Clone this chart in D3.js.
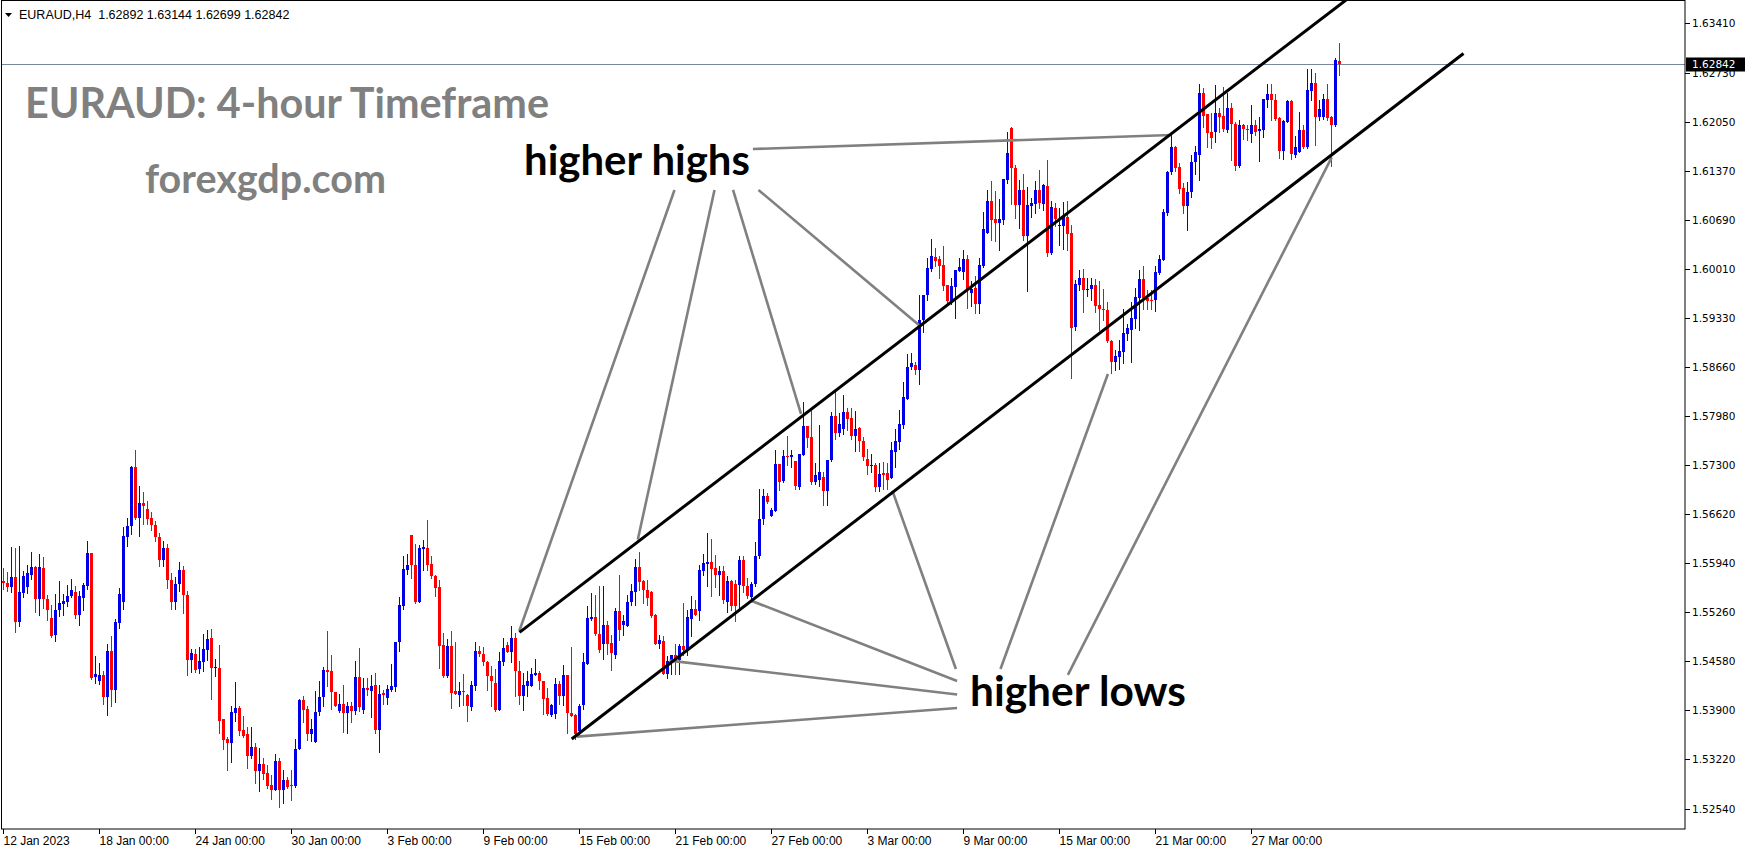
<!DOCTYPE html>
<html><head><meta charset="utf-8">
<script src="https://cdn.jsdelivr.net/npm/d3@7"></script>
<style>html,body{margin:0;padding:0;background:#fff;overflow:hidden}svg{display:block}</style>
</head><body>
<svg id="c" width="1749" height="850"></svg>
<script>
// ---------- DATA (EURAUD H4, 12 Jan 2023 .. 30 Mar 2023) ----------
const open = [
1.55693,1.55661,1.55601,1.55748,1.55130,1.55531,1.55601,1.55776,1.55886,1.55448,
1.55873,1.55444,1.55181,1.54937,1.55283,1.55379,1.55407,1.55485,1.55541,1.55227,
1.55462,1.55628,1.56080,1.54356,1.54301,1.54393,1.54079,1.54725,1.54185,1.55103,
1.55407,1.56306,1.56458,1.57269,1.56569,1.56772,1.56689,1.56564,1.56472,1.56300,
1.55980,1.56150,1.55700,1.55400,1.55650,1.55850,1.55500,1.54598,1.54681,1.54474,
1.54575,1.54736,1.54898,1.54488,1.54488,1.53782,1.53506,1.53455,1.53870,1.53934,
1.53630,1.53575,1.53275,1.53395,1.53063,1.53160,1.53035,1.52870,1.52800,1.53201,
1.52800,1.52939,1.52870,1.52856,1.53367,1.54045,1.53922,1.53576,1.53456,1.53880,
1.54079,1.54461,1.54447,1.54157,1.53894,1.53991,1.53857,1.53963,1.53894,1.54364,
1.53908,1.54212,1.54171,1.54254,1.53631,1.54134,1.54074,1.54184,1.54222,1.54848,
1.55346,1.55844,1.56328,1.55913,1.55402,1.56135,1.56148,1.55927,1.55761,1.55609,
1.54807,1.54378,1.54793,1.54171,1.54115,1.54171,1.54106,1.53949,1.54240,1.54724,
1.54682,1.54572,1.54378,1.54281,1.53908,1.54572,1.54807,1.54710,1.54904,1.54447,
1.54102,1.54240,1.54240,1.54392,1.54420,1.54309,1.54074,1.53839,1.53853,1.54267,
1.54102,1.54392,1.53866,1.53839,1.53618,1.53977,1.54544,1.55166,1.55194,1.54959,
1.54821,1.55083,1.54835,1.54669,1.55277,1.55083,1.55070,1.55394,1.55541,1.55887,
1.55693,1.55569,1.55541,1.55223,1.54822,1.54863,1.54407,1.54591,1.54670,1.54600,
1.54794,1.54739,1.55167,1.55306,1.55278,1.55831,1.55928,1.55956,1.55873,1.55776,
1.55831,1.55403,1.55693,1.55652,1.55638,1.55984,1.55624,1.55472,1.55652,1.56039,
1.56551,1.56869,1.56592,1.56661,1.57311,1.57076,1.57424,1.57401,1.57355,1.56996,
1.57438,1.57839,1.57687,1.57065,1.57092,1.57134,1.56940,1.57369,1.57977,1.57742,
1.57798,1.58033,1.57950,1.57701,1.57812,1.57632,1.57383,1.57286,1.57300,1.56996,
1.57189,1.57189,1.57120,1.57480,1.57618,1.57853,1.58213,1.58655,1.58683,1.58614,
1.59305,1.59651,1.60012,1.60178,1.60150,1.60067,1.59791,1.59569,1.59763,1.59984,
1.59971,1.60150,1.59680,1.59749,1.59528,1.60054,1.60510,1.60952,1.60704,1.60648,
1.60690,1.61243,1.61962,1.61409,1.60897,1.61105,1.60468,1.60883,1.60911,1.61105,
1.60911,1.61160,1.60233,1.60856,1.60607,1.60607,1.60731,1.60510,1.59206,1.59792,
1.59888,1.59722,1.59736,1.59792,1.59515,1.59460,1.59446,1.59017,1.58727,1.58796,
1.58865,1.59114,1.59169,1.59321,1.59612,1.59875,1.59612,1.59584,1.59584,1.59958,
1.60137,1.60787,1.61354,1.61700,1.61424,1.61133,1.60884,1.61078,1.61493,1.61590,
1.62447,1.62157,1.61908,1.61908,1.62170,1.62129,1.61935,1.62240,1.62018,1.61437,
1.62004,1.61949,1.61880,1.62004,1.61921,1.61935,1.62350,1.62433,1.62350,1.62101,
1.61645,1.62046,1.62336,1.61590,1.61631,1.61935,1.61700,1.62475,1.62585,1.62115,
1.62115,1.62364,1.62115,1.62004,1.62892];
const high = [
1.55867,1.55822,1.56158,1.56145,1.56177,1.55831,1.55914,1.56094,1.55900,1.56066,
1.56025,1.55499,1.55361,1.55513,1.55693,1.55513,1.55637,1.55720,1.55624,1.55559,
1.55665,1.56246,1.56080,1.54656,1.54559,1.54448,1.54822,1.54932,1.55167,1.55596,
1.56440,1.56564,1.57283,1.57505,1.57007,1.56924,1.56799,1.56647,1.56520,1.56350,
1.56250,1.56200,1.55800,1.55750,1.55950,1.55900,1.55550,1.54750,1.54750,1.54778,
1.54958,1.55013,1.55027,1.54612,1.54806,1.53782,1.53538,1.53962,1.54294,1.53962,
1.53824,1.53672,1.53672,1.53450,1.53381,1.53243,1.53146,1.53008,1.53298,1.53243,
1.53077,1.52980,1.53077,1.53506,1.54059,1.54100,1.53960,1.53784,1.54171,1.54309,
1.54503,1.55001,1.54669,1.54157,1.54129,1.54254,1.54009,1.54018,1.54586,1.54765,
1.54351,1.54351,1.54392,1.54420,1.54254,1.54185,1.54254,1.54544,1.54848,1.55471,
1.56038,1.56065,1.56328,1.56204,1.56190,1.56259,1.56536,1.56038,1.55775,1.55703,
1.54973,1.54890,1.55001,1.54848,1.54292,1.54403,1.54129,1.54309,1.54848,1.54793,
1.54779,1.54586,1.54516,1.54475,1.54710,1.54904,1.54848,1.55070,1.54973,1.54586,
1.54420,1.54447,1.54489,1.54613,1.54447,1.54309,1.54212,1.53991,1.54350,1.54309,
1.54530,1.54392,1.54779,1.53853,1.53991,1.54696,1.55346,1.55526,1.55498,1.55623,
1.55623,1.55139,1.54945,1.55319,1.55775,1.55222,1.55498,1.55652,1.55997,1.56094,
1.55707,1.55707,1.55555,1.55237,1.54946,1.54932,1.54656,1.54670,1.54822,1.54822,
1.55393,1.55292,1.55486,1.55430,1.55914,1.56066,1.56357,1.56274,1.56053,1.55901,
1.55901,1.55762,1.55707,1.55707,1.56039,1.56039,1.55735,1.55679,1.56232,1.56965,
1.56965,1.56910,1.56703,1.57505,1.57311,1.57505,1.57701,1.57507,1.57355,1.57452,
1.58171,1.57839,1.58060,1.57327,1.57853,1.57203,1.57369,1.58033,1.58309,1.58019,
1.58268,1.58088,1.58088,1.58047,1.57825,1.57687,1.57521,1.57452,1.57327,1.57327,
1.57341,1.57327,1.57618,1.57798,1.58060,1.58448,1.58835,1.58849,1.58724,1.59651,
1.59651,1.60163,1.60427,1.60302,1.60192,1.60330,1.59791,1.59888,1.59998,1.60164,
1.60275,1.60206,1.59846,1.59915,1.60164,1.60800,1.61105,1.61229,1.61091,1.60980,
1.61257,1.61907,1.61976,1.61450,1.61243,1.61326,1.61146,1.60994,1.61229,1.61381,
1.61188,1.61519,1.60952,1.60925,1.60856,1.60939,1.60952,1.60621,1.59861,1.59999,
1.60013,1.59888,1.59888,1.59875,1.59847,1.59736,1.59557,1.59031,1.58893,1.59031,
1.59460,1.59252,1.59557,1.59750,1.59999,1.60054,1.59722,1.59722,1.60054,1.60207,
1.60843,1.61368,1.61866,1.61714,1.61479,1.61202,1.61216,1.61590,1.61714,1.62571,
1.62516,1.62157,1.62170,1.62558,1.62240,1.62530,1.62447,1.62309,1.62046,1.62074,
1.62018,1.62004,1.62281,1.62074,1.62115,1.62364,1.62571,1.62571,1.62433,1.62115,
1.62074,1.62350,1.62350,1.61852,1.62184,1.62004,1.62779,1.62779,1.62724,1.62350,
1.62433,1.62571,1.62129,1.62931,1.63144];
const low = [
1.55582,1.55555,1.55545,1.54978,1.55061,1.55476,1.55531,1.55720,1.55255,1.55223,
1.55315,1.55144,1.54909,1.54854,1.55200,1.55223,1.55338,1.55467,1.55172,1.55075,
1.55296,1.55578,1.54337,1.54273,1.54259,1.53987,1.53830,1.53955,1.54010,1.55047,
1.55306,1.56177,1.56343,1.56555,1.56315,1.56481,1.56486,1.56398,1.56244,1.55900,
1.55900,1.55600,1.55300,1.55300,1.55550,1.55245,1.54391,1.54437,1.54437,1.54423,
1.54446,1.54598,1.54059,1.54377,1.53593,1.53367,1.53077,1.53188,1.53759,1.53561,
1.53538,1.53105,1.53243,1.52897,1.52786,1.52952,1.52828,1.52676,1.52800,1.52565,
1.52621,1.52828,1.52662,1.52842,1.53367,1.53733,1.53493,1.53479,1.53456,1.53839,
1.53963,1.54240,1.53922,1.53963,1.53880,1.53604,1.53590,1.53742,1.53844,1.53894,
1.53867,1.54115,1.53811,1.53590,1.53327,1.53991,1.53991,1.54166,1.54166,1.54724,
1.55305,1.55789,1.55734,1.55388,1.55402,1.55844,1.55844,1.55734,1.55485,1.54489,
1.54364,1.54364,1.53936,1.54125,1.53963,1.53977,1.53756,1.53908,1.54184,1.54655,
1.54530,1.54184,1.53963,1.53894,1.53908,1.54530,1.54710,1.54572,1.54102,1.53991,
1.53908,1.54102,1.54240,1.54392,1.54198,1.53853,1.53839,1.53825,1.53797,1.53991,
1.53977,1.53590,1.53825,1.53510,1.53576,1.53922,1.54544,1.55153,1.54945,1.54710,
1.54613,1.54682,1.54461,1.54627,1.54876,1.54945,1.55070,1.55361,1.55361,1.55569,
1.55389,1.55361,1.55195,1.54822,1.54767,1.54407,1.54352,1.54407,1.54407,1.54407,
1.54670,1.54670,1.54932,1.55223,1.55154,1.55776,1.55624,1.55486,1.55610,1.55500,
1.55389,1.55264,1.55292,1.55140,1.55320,1.55541,1.55458,1.55430,1.55624,1.56011,
1.56481,1.56772,1.56592,1.56661,1.56952,1.57062,1.57300,1.57272,1.56968,1.56968,
1.57438,1.57549,1.57037,1.57037,1.57009,1.56747,1.56747,1.57355,1.57659,1.57701,
1.57729,1.57784,1.57659,1.57493,1.57493,1.57369,1.57175,1.57203,1.56940,1.56940,
1.56968,1.56968,1.57120,1.57272,1.57521,1.57812,1.58213,1.58627,1.58558,1.58420,
1.59139,1.59582,1.59984,1.60054,1.59888,1.59722,1.59528,1.59528,1.59334,1.59984,
1.59874,1.59473,1.59500,1.59404,1.59404,1.60040,1.60510,1.60413,1.60399,1.60275,
1.60634,1.61201,1.60911,1.60717,1.60579,1.60413,1.59708,1.60731,1.60787,1.60856,
1.60828,1.60192,1.60219,1.60607,1.60344,1.60289,1.60275,1.58505,1.59169,1.59722,
1.59418,1.59640,1.59584,1.59418,1.59169,1.59308,1.59003,1.58570,1.58616,1.58630,
1.58708,1.59031,1.58727,1.59197,1.59169,1.59460,1.59460,1.59460,1.59432,1.59944,
1.60137,1.60760,1.61327,1.61368,1.61064,1.60787,1.60552,1.61009,1.61327,1.61244,
1.61977,1.61700,1.61686,1.61769,1.61908,1.61921,1.61908,1.61520,1.61382,1.61424,
1.61815,1.61797,1.61769,1.61866,1.61507,1.61838,1.62258,1.62074,1.62074,1.61548,
1.61534,1.62046,1.61534,1.61566,1.61631,1.61686,1.61686,1.62350,1.61728,1.62074,
1.62087,1.62074,1.61437,1.61991,1.62699];
const close = [
1.55665,1.55601,1.55748,1.55130,1.55545,1.55762,1.55803,1.55886,1.55448,1.55886,
1.55435,1.55296,1.54923,1.55292,1.55389,1.55416,1.55485,1.55568,1.55227,1.55485,
1.55637,1.56080,1.54351,1.54407,1.54393,1.54079,1.54725,1.54185,1.55126,1.55513,
1.56315,1.56453,1.57269,1.56569,1.56772,1.56735,1.56555,1.56472,1.56300,1.55980,
1.56150,1.55700,1.55400,1.55650,1.55850,1.55500,1.54598,1.54690,1.54460,1.54584,
1.54750,1.54889,1.54488,1.54497,1.53759,1.53483,1.53455,1.53879,1.53934,1.53621,
1.53547,1.53275,1.53395,1.53063,1.53160,1.53022,1.52856,1.52800,1.53201,1.52800,
1.52939,1.52842,1.52860,1.53367,1.54045,1.53907,1.53576,1.53645,1.53880,1.54088,
1.54461,1.54434,1.54148,1.53963,1.53991,1.53857,1.53960,1.53894,1.54364,1.53949,
1.54212,1.54185,1.54240,1.53631,1.54129,1.54106,1.54202,1.54240,1.54848,1.55360,
1.55858,1.55913,1.55913,1.55402,1.56148,1.56162,1.55913,1.55761,1.55595,1.54793,
1.54378,1.54793,1.54143,1.54129,1.54171,1.54166,1.53954,1.54254,1.54724,1.54682,
1.54572,1.54378,1.54309,1.53908,1.54586,1.54765,1.54710,1.54904,1.54447,1.54102,
1.54254,1.54309,1.54406,1.54420,1.54309,1.54060,1.53853,1.53977,1.54267,1.54102,
1.54392,1.53866,1.53825,1.53576,1.53963,1.54572,1.55180,1.55194,1.54959,1.54738,
1.55083,1.54821,1.54696,1.55277,1.55014,1.55139,1.55402,1.55555,1.55887,1.55679,
1.55569,1.55458,1.55209,1.54822,1.54877,1.54407,1.54587,1.54670,1.54600,1.54794,
1.54739,1.55195,1.55306,1.55223,1.55845,1.55942,1.55956,1.55859,1.55776,1.55831,
1.55430,1.55693,1.55347,1.55347,1.55984,1.55624,1.55486,1.55652,1.56039,1.56551,
1.56869,1.56786,1.56675,1.57311,1.57062,1.57422,1.57401,1.57438,1.57009,1.57452,
1.57839,1.57673,1.57065,1.57161,1.57203,1.56940,1.57369,1.57977,1.57742,1.57867,
1.58033,1.57936,1.57701,1.57798,1.57632,1.57410,1.57286,1.57300,1.56996,1.57175,
1.57161,1.57092,1.57507,1.57632,1.57867,1.58240,1.58655,1.58710,1.58614,1.59305,
1.59651,1.60024,1.60192,1.60123,1.60054,1.59777,1.59569,1.59777,1.59998,1.60040,
1.60150,1.59735,1.59735,1.59528,1.60067,1.60565,1.60952,1.60690,1.60648,1.60704,
1.61257,1.61616,1.61409,1.60897,1.61105,1.60468,1.60897,1.60925,1.61105,1.60925,
1.61174,1.60233,1.60869,1.60704,1.60621,1.60745,1.60496,1.59196,1.59805,1.59888,
1.59722,1.59736,1.59792,1.59501,1.59460,1.59446,1.59017,1.58727,1.58810,1.58879,
1.59128,1.59197,1.59335,1.59626,1.59875,1.59612,1.59570,1.59570,1.59971,1.60151,
1.60801,1.61354,1.61700,1.61410,1.61119,1.60884,1.61078,1.61493,1.61631,1.62447,
1.62129,1.61894,1.61825,1.62170,1.62115,1.61949,1.62240,1.62018,1.61437,1.62004,
1.61949,1.61935,1.62004,1.61908,1.61949,1.62364,1.62433,1.62350,1.62087,1.61645,
1.62060,1.62336,1.61603,1.61700,1.61935,1.61700,1.62488,1.62585,1.62115,1.62226,
1.62364,1.62101,1.62004,1.62903,1.62842];

// time-axis labels and the bar index they sit on (every 24 bars)
const timeLabels = ["12 Jan 2023","18 Jan 00:00","24 Jan 00:00","30 Jan 00:00","3 Feb 00:00","9 Feb 00:00",
  "15 Feb 00:00","21 Feb 00:00","27 Feb 00:00","3 Mar 00:00","9 Mar 00:00","15 Mar 00:00","21 Mar 00:00","27 Mar 00:00"];
const timeLabelBars = [0,24,48,72,96,120,144,168,192,216,240,264,288,312];
// price-axis labels
const priceTicks = ["1.63410","1.62730","1.62050","1.61370","1.60690","1.60010","1.59330","1.58660",
  "1.57980","1.57300","1.56620","1.55940","1.55260","1.54580","1.53900","1.53220","1.52540"];
const lastPrice = 1.62842;
const headerText = "EURAUD,H4  1.62892 1.63144 1.62699 1.62842";

// trend channel (bar index, price)
const channelUpper = [[129, 1.5498], [345, 1.6413]];
const channelLower = [[142.05, 1.53504], [365, 1.62993]];
// annotation pointer lines (bar index, price)
const highsPointers = [
  [[167.75, 1.61104], [128.95, 1.54999]],
  [[177.75, 1.61104], [158.58, 1.56266]],
  [[182.38, 1.61104], [199.38, 1.58003]],
  [[188.75, 1.61104], [229.13, 1.59221]],
  [[187.35, 1.61671], [291.9, 1.61865]]
];
const lowsPointers = [
  [[238.4, 1.53933], [143.3, 1.53536]],
  [[238.4, 1.54120], [166.5, 1.54588]],
  [[238.4, 1.54307], [186.75, 1.55421]],
  [[238.1, 1.54473], [222.25, 1.56937]],
  [[249.25, 1.54473], [276.1, 1.58557]],
  [[266.1, 1.54390], [332.05, 1.61556]]
];

// ---------- DRAW ----------
const W = 1749, H = 850;
const plot = {l: 2, t: 1, r: 1685, b: 829};
const BLUE = "#0000e6", RED = "#ff0000";
const svg = d3.select("#c");
svg.append("rect").attr("width", W).attr("height", H).attr("fill", "#fff");

const x = d3.scaleLinear().domain([0, 334]).range([3.5, 1339.5]);
const y = d3.scaleLinear().domain([1.52540, 1.63410]).range([808.6, 23.4]);

svg.append("defs").append("clipPath").attr("id", "clip").append("rect")
  .attr("x", plot.l).attr("y", plot.t).attr("width", plot.r - plot.l).attr("height", plot.b - plot.t);

const g = svg.append("g").attr("clip-path", "url(#clip)");

// last price line
g.append("line").attr("x1", plot.l).attr("x2", plot.r)
  .attr("y1", Math.round(y(lastPrice)) + 0.5).attr("y2", Math.round(y(lastPrice)) + 0.5)
  .attr("stroke", "#778899").attr("stroke-width", 1);

const idx = d3.range(open.length);
const isBull = i => close[i] >= open[i];
const cg = g.append("g").attr("shape-rendering", "crispEdges");
cg.selectAll("line.w").data(idx).join("line").attr("class", "w")
  .attr("x1", i => x(i)).attr("x2", i => x(i))
  .attr("y1", i => Math.round(y(high[i]))).attr("y2", i => Math.round(y(low[i])) + 1)
  .attr("stroke", i => isBull(i) ? BLUE : RED).attr("stroke-width", 1);
cg.selectAll("rect.b").data(idx).join("rect").attr("class", "b")
  .attr("x", i => x(i) - 1.5).attr("width", 3)
  .attr("y", i => Math.round(y(Math.max(open[i], close[i]))))
  .attr("height", i => Math.max(1, Math.round(y(Math.min(open[i], close[i]))) - Math.round(y(Math.max(open[i], close[i])))))
  .attr("fill", i => isBull(i) ? BLUE : RED);

const seg = d3.line().x(d => x(d[0])).y(d => y(d[1]));
// gray pointers
const ag = g.append("g");
ag.selectAll("path.hp").data(highsPointers.concat(lowsPointers)).join("path").attr("class", "hp")
  .attr("d", seg).attr("stroke", "#808080").attr("stroke-width", 2.6).attr("fill", "none");
// channel
g.append("g").selectAll("path").data([channelUpper, channelLower]).join("path")
  .attr("d", seg).attr("stroke", "#000").attr("stroke-width", 3).attr("fill", "none");

// frame
svg.append("rect").attr("x", plot.l - 0.5).attr("y", plot.t - 0.5)
  .attr("width", plot.r - plot.l + 0.5).attr("height", plot.b - plot.t + 0.5)
  .attr("fill", "none").attr("stroke", "#000").attr("stroke-width", 1);

// price axis
const pa = svg.append("g");
priceTicks.forEach(t => {
  const yy = Math.round(y(+t)) + 0.5;
  pa.append("line").attr("x1", plot.r).attr("x2", plot.r + 5).attr("y1", yy).attr("y2", yy)
    .attr("stroke", "#000").attr("shape-rendering", "crispEdges");
  pa.append("text").attr("x", plot.r + 7).attr("y", yy).attr("dy", "0.35em")
    .attr("font-family", "DejaVu Sans, Verdana, sans-serif").attr("font-size", 10.5).attr("fill", "#000").text(t);
});
// last price tag
const ly = Math.round(y(lastPrice)) + 0.5;
pa.append("rect").attr("x", plot.r + 1).attr("y", ly - 7).attr("width", 59).attr("height", 14).attr("fill", "#000");
pa.append("text").attr("x", plot.r + 7).attr("y", ly).attr("dy", "0.35em")
  .attr("font-family", "DejaVu Sans, Verdana, sans-serif").attr("font-size", 10.5).attr("fill", "#fff").text(lastPrice.toFixed(5));

// time axis
const ta = svg.append("g");
timeLabels.forEach((t, k) => {
  const xx = x(timeLabelBars[k]);
  ta.append("line").attr("x1", xx).attr("x2", xx).attr("y1", plot.b).attr("y2", plot.b + 5)
    .attr("stroke", "#000").attr("shape-rendering", "crispEdges");
  ta.append("text").attr("x", xx).attr("y", plot.b + 16)
    .attr("font-family", "Liberation Sans, Arial, sans-serif").attr("font-size", 12).attr("fill", "#000").text(t);
});

// header
svg.append("path").attr("d", "M5,13 L12,13 L8.5,17 Z").attr("fill", "#000");
svg.append("text").attr("x", 19).attr("y", 19).attr("font-family", "Liberation Sans, Arial, sans-serif")
  .attr("font-size", 12.5).attr("fill", "#000").attr("xml:space", "preserve").style("white-space", "pre").text(headerText);

// big texts fitted to width
function fitText(str, x0, base, width, color) {
  const t = svg.append("text").attr("x", x0).attr("y", base)
    .attr("font-family", "Lato, 'Open Sans', sans-serif").attr("font-weight", 700)
    .attr("font-size", 40).attr("fill", color).text(str);
  const w = t.node().getComputedTextLength();
  t.attr("font-size", 40 * width / w);
  return t;
}
fitText("EURAUD: 4-hour Timeframe", 25, 118, 524, "#808080");
fitText("forexgdp.com", 145, 193, 241, "#808080");
fitText("higher highs", 524, 175, 226, "#000");
fitText("higher lows", 970, 706, 216, "#000");
</script>
</body></html>
